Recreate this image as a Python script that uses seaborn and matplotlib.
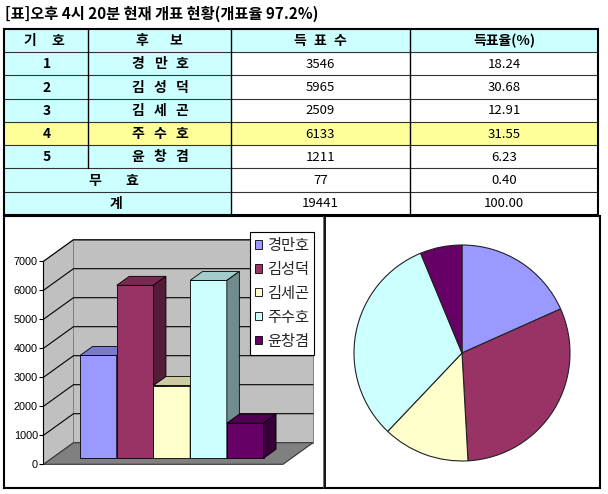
import matplotlib
matplotlib.use("Agg")
import matplotlib.pyplot as plt
from matplotlib.patches import Rectangle, Polygon, Patch
import numpy as np
import pandas as pd
import seaborn as sns

# ---------------- data ----------------
title = "[표]오후 4시 20분 현재 개표 현황(개표율 97.2%)"
headers = ["기호", "후보", "득표수", "득표율(%)"]
numbers = ["1", "2", "3", "4", "5"]
candidates = ["경만호", "김성덕", "김세곤", "주수호", "윤창겸"]
votes = [3546, 5965, 2509, 6133, 1211]
shares = ["18.24", "30.68", "12.91", "31.55", "6.23"]
invalid_label = "무효"
invalid_votes = 77
invalid_share = "0.40"
total_label = "계"
total_votes = 19441
total_share = "100.00"
value_ticks = [0, 1000, 2000, 3000, 4000, 5000, 6000, 7000]
colors = ["#9999FF", "#993366", "#FFFFCC", "#CCFFFF", "#660066"]
highlight = 3  # 주수호 row

sns.set_theme(style="white")
plt.rcParams["font.family"] = ["Noto Sans CJK KR", "DejaVu Sans"]

W, H = 608, 494
fig = plt.figure(figsize=(W / 100, H / 100), dpi=100)
fig.patch.set_facecolor("white")

# base axes in pixel coordinates for table & frames
ax0 = fig.add_axes([0, 0, 1, 1])
ax0.set_xlim(0, W)
ax0.set_ylim(H, 0)
ax0.axis("off")

CYAN = "#CCFFFF"
YELLOW = "#FFFF99"

ax0.text(5, 14, title, fontsize=11, fontweight="bold", va="center", ha="left", color="black")

col_edges = [4, 88, 231, 410, 598]
top, rh = 29, 23.25
row_edges = [top + rh * k for k in range(9)]
nrows = 8


def cell(c0, c1, r, color):
    ax0.add_patch(Rectangle((col_edges[c0], row_edges[r]), col_edges[c1] - col_edges[c0],
                            rh, facecolor=color, edgecolor="none", zorder=1))


def spaced(xc, y, s, spacing, **kw):
    n = len(s)
    for k, ch in enumerate(s):
        ax0.text(xc + (k - (n - 1) / 2) * spacing, y, ch, ha="center", va="center", zorder=3, **kw)


for r in range(nrows):
    if r == 0:
        cell(0, 4, r, CYAN)
    elif r <= 5:
        hl = (r - 1) == highlight
        cell(0, 2, r, YELLOW if hl else CYAN)
        cell(2, 4, r, YELLOW if hl else "white")
    else:
        cell(0, 2, r, CYAN)
        cell(2, 4, r, "white")

# grid lines
for r in range(1, nrows):
    ax0.plot([col_edges[0], col_edges[4]], [row_edges[r]] * 2, color="#333333", lw=0.8, zorder=2)
ax0.plot([col_edges[1]] * 2, [row_edges[0], row_edges[6]], color="black", lw=1.0, zorder=2)
for c in (2, 3):
    ax0.plot([col_edges[c]] * 2, [row_edges[0], row_edges[8]], color="black", lw=1.0, zorder=2)
ax0.add_patch(Rectangle((col_edges[0], row_edges[0]), col_edges[4] - col_edges[0],
                        row_edges[8] - row_edges[0], fill=False, edgecolor="black", lw=1.5, zorder=2))

yc = lambda r: row_edges[r] + rh / 2 + 0.5
bold = dict(fontsize=10, fontweight="bold", color="black")
reg = dict(fontsize=9.5, color="black")

spaced(44, yc(0), headers[0], 28, **bold)
spaced(159, yc(0), headers[1], 34, **bold)
spaced(320, yc(0), headers[2], 20, **bold)
ax0.text(504, yc(0), headers[3], ha="center", va="center", zorder=3, **bold)

for i in range(5):
    r = i + 1
    ax0.text(47, yc(r), numbers[i], ha="center", va="center", zorder=3, **bold)
    spaced(160, yc(r), candidates[i], 22, **bold)
    ax0.text(320.5, yc(r), str(votes[i]), ha="center", va="center", zorder=3, **reg)
    ax0.text(504, yc(r), shares[i], ha="center", va="center", zorder=3, **reg)

spaced(113.5, yc(6), invalid_label, 37, **bold)
ax0.text(320.5, yc(6), str(invalid_votes), ha="center", va="center", zorder=3, **reg)
ax0.text(504, yc(6), invalid_share, ha="center", va="center", zorder=3, **reg)
ax0.text(116, yc(7), total_label, ha="center", va="center", zorder=3, **bold)
ax0.text(320.5, yc(7), str(total_votes), ha="center", va="center", zorder=3, **reg)
ax0.text(504, yc(7), total_share, ha="center", va="center", zorder=3, **reg)

# chart panels frame
panel_top, panel_bot = 216, 488
ax0.add_patch(Rectangle((4, panel_top), 600 - 4, panel_bot - panel_top, fill=False,
                        edgecolor="black", lw=1.5, zorder=2))
ax0.plot([325, 325], [panel_top, panel_bot], color="black", lw=1.3, zorder=2)
ax0.plot([322.5, 322.5], [panel_top, panel_bot], color="#555555", lw=0.6, zorder=2)

# ---------------- 3D-look bar chart ----------------
PXW = 36.7        # px per category
X0 = 98.4         # px of first bar centre
S = 0.029         # px per vote
FLOOR = 464.3     # px of floor front edge (value 0)
pl, pr = 4, 325
axb = fig.add_axes([pl / W, 1 - panel_bot / H, (pr - pl) / W, (panel_bot - panel_top) / H])
axb.set_facecolor("none")

Dx, Dy = 30 / PXW, 21.6 / S          # full depth of floor
f0 = 6.0 / 21.6                      # bars' front depth fraction
bf = 9.0 / 21.6                      # bar depth fraction
bdx, bdy = bf * Dx, bf * Dy
xL = (43.5 - X0) / PXW
xR = (283 - X0) / PXW
vmax = value_ticks[-1]

df = pd.DataFrame({"candidate": candidates, "votes": votes})
sns.barplot(data=df, x="candidate", y="votes", hue="candidate", palette=colors,
            width=1.0, saturation=1, bottom=f0 * Dy, edgecolor="black", linewidth=0.6,
            legend=False, errorbar=None, ax=axb)
bars = list(axb.patches)


def shade(c, k):
    rgb = np.array(matplotlib.colors.to_rgb(c)) * k
    return tuple(rgb)


# walls & floor
wall = "#C0C0C0"
axb.add_patch(Polygon([(xL, 0), (xL + Dx, Dy), (xL + Dx, vmax + Dy), (xL, vmax)],
                      closed=True, facecolor=wall, edgecolor="#808080", lw=0.7, zorder=0.5))
axb.add_patch(Polygon([(xL + Dx, Dy), (xR + Dx, Dy), (xR + Dx, vmax + Dy), (xL + Dx, vmax + Dy)],
                      closed=True, facecolor=wall, edgecolor="#808080", lw=0.7, zorder=0.5))
axb.add_patch(Polygon([(xL, 0), (xR, 0), (xR + Dx, Dy), (xL + Dx, Dy)],
                      closed=True, facecolor="#808080", edgecolor="#333333", lw=0.8, zorder=0.55))
for v in value_ticks[1:]:
    axb.plot([xL, xL + Dx, xR + Dx], [v, v + Dy, v + Dy], color="black", lw=0.8, zorder=0.6)

for i, b in enumerate(bars):
    c = colors[i]
    x0, x1 = b.get_x(), b.get_x() + b.get_width()
    yb, yt = b.get_y(), b.get_y() + b.get_height()
    z = 2 + i
    b.set_zorder(z)
    axb.add_patch(Polygon([(x0, yt), (x1, yt), (x1 + bdx, yt + bdy), (x0 + bdx, yt + bdy)],
                          closed=True, facecolor=shade(c, 0.8), edgecolor="black", lw=0.6, zorder=z))
    axb.add_patch(Polygon([(x1, yb), (x1 + bdx, yb + bdy), (x1 + bdx, yt + bdy), (x1, yt)],
                          closed=True, facecolor=shade(c, 0.55), edgecolor="black", lw=0.6, zorder=z))

axb.set_xlim((pl - X0) / PXW, (pr - X0) / PXW)
axb.set_ylim((FLOOR - panel_bot) / S, (FLOOR - panel_top) / S)
axb.set_xlabel("")
axb.set_ylabel("")
axb.set_xticks([])
for s in ("top", "right", "bottom"):
    axb.spines[s].set_visible(False)
axb.spines["left"].set_position(("data", xL))
axb.spines["left"].set_bounds(0, vmax)
axb.spines["left"].set_color("black")
axb.spines["left"].set_linewidth(0.8)
axb.set_yticks(value_ticks)
axb.set_yticklabels([str(v) for v in value_ticks], family=["Liberation Sans", "DejaVu Sans"])
axb.tick_params(axis="y", direction="out", length=3, width=0.8, pad=1.0, labelsize=7.8,
                left=True, colors="black")

handles = [Patch(facecolor=c, edgecolor="black", linewidth=0.6, label=n) for c, n in zip(colors, candidates)]
leg = fig.legend(handles=handles, loc="upper left", bbox_to_anchor=(250 / W, 1 - 231.7 / H),
                 frameon=True, fancybox=False, edgecolor="black", framealpha=1, fontsize=11,
                 handlelength=0.45, handleheight=0.45, handletextpad=0.3, labelspacing=0.45,
                 borderpad=0.35, borderaxespad=0)
leg.get_frame().set_linewidth(0.8)

# ---------------- pie ----------------
pcx, pcy, prad = 462, 353, 108
half = 112
axp = fig.add_axes([(pcx - half) / W, (H - pcy - half) / H, 2 * half / W, 2 * half / H])
axp.pie(votes, colors=colors, startangle=90, counterclock=False, radius=1,
        wedgeprops=dict(edgecolor="#222222", linewidth=0.8))
axp.set_xlim(-half / prad, half / prad)
axp.set_ylim(-half / prad, half / prad)
axp.set_aspect("equal")
axp.axis("off")

fig.savefig("out.png", dpi=100, facecolor="white")
